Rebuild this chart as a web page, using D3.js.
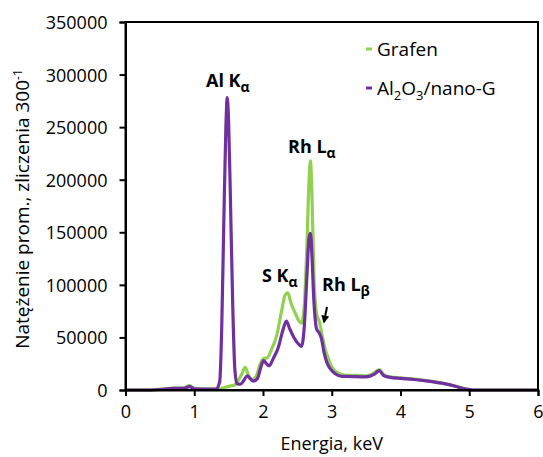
<!DOCTYPE html>
<html><head><meta charset="utf-8">
<script src="https://cdn.jsdelivr.net/npm/d3@7"></script>
<style>body{margin:0;background:#fff;} svg{display:block;}</style>
</head><body>
<svg id="c" width="543" height="457"></svg>
<script>
const energy = [0.0,0.3,0.5,0.7,0.85,0.93,1.0,1.2,1.32,1.37,1.40,1.43,1.46,1.48,1.50,1.53,1.56,1.59,1.62,1.67,1.72,1.77,1.81,1.86,1.92,1.97,2.01,2.05,2.09,2.15,2.22,2.29,2.34,2.39,2.45,2.50,2.56,2.60,2.64,2.67,2.69,2.71,2.74,2.78,2.82,2.85,2.89,2.93,2.98,3.05,3.15,3.30,3.45,3.55,3.62,3.69,3.75,3.85,4.0,4.2,4.4,4.6,4.8,4.95,5.05,6.0];
const alValues = [0,0,500,1500,1500,3200,1200,800,1000,8000,60000,160000,250000,278000,255000,170000,80000,20000,6000,5500,9000,13500,11000,8500,11000,22000,28000,25000,23000,30000,40000,57000,65500,58000,50000,45000,41500,60000,110000,145000,149000,130000,85000,58000,54000,49000,35000,26000,20000,15500,13000,12800,12500,13000,15000,18500,14000,12000,11000,10000,8500,6500,3500,800,0,0];
const grafenEnergy = [0.0,0.3,0.5,0.7,0.85,0.93,1.0,1.2,1.35,1.42,1.50,1.58,1.63,1.69,1.74,1.79,1.84,1.90,1.96,2.01,2.06,2.12,2.20,2.27,2.32,2.36,2.41,2.47,2.52,2.56,2.60,2.64,2.67,2.69,2.71,2.74,2.78,2.82,2.86,2.90,2.95,3.00,3.08,3.20,3.35,3.50,3.60,3.69,3.76,3.85,4.0,4.2,4.4,4.6,4.8,4.95,5.05,6.0];
const grafenValues = [0,0,700,1800,2000,4500,1500,800,800,2000,3500,4500,8000,15000,21500,14000,10000,13000,25000,30000,30500,38000,52000,75000,90000,92500,82000,73000,66000,63500,80000,140000,200000,218000,190000,110000,72000,65000,52000,40000,30000,22000,16500,14000,14000,13500,15500,19500,14500,12500,11500,10300,8700,6700,3700,900,0,0];
const xTicks = [0,1,2,3,4,5,6];
const yTicks = [0,50000,100000,150000,200000,250000,300000,350000];
const seriesNames = ["Grafen","Al2O3/nano-G"];
const colors = {green:"#92D050", purple:"#7030A0"};

const svg = d3.select("#c");
const font = "'Open Sans', sans-serif";
const x = d3.scaleLinear().domain([0,6]).range([125.5,538]);
const y = d3.scaleLinear().domain([0,350000]).range([390,22]);

const line = d3.line().x(d=>x(d[0])).y(d=>y(d[1])).curve(d3.curveMonotoneX);
const gData = grafenEnergy.map((e,i)=>[e,grafenValues[i]]);
const aData = energy.map((e,i)=>[e,alValues[i]]);

svg.append("path").attr("d",line(gData)).attr("fill","none").attr("stroke",colors.green).attr("stroke-width",3.2).attr("stroke-linejoin","round");
svg.append("path").attr("d",line(aData)).attr("fill","none").attr("stroke",colors.purple).attr("stroke-width",3.2).attr("stroke-linejoin","round");

// frame
svg.append("rect").attr("x",x(0)).attr("y",y(350000)).attr("width",x(6)-x(0)).attr("height",y(0)-y(350000))
  .attr("fill","none").attr("stroke","#000").attr("stroke-width",2);

const xAxis = svg.append("g").attr("transform",`translate(0,${y(0)})`)
  .call(d3.axisBottom(x).tickValues(xTicks).tickFormat(d3.format("d")).tickSize(6).tickPadding(8));
const yAxis = svg.append("g").attr("transform",`translate(${x(0)},0)`)
  .call(d3.axisLeft(y).tickValues(yTicks).tickFormat(d=>String(d)).tickSize(6).tickPadding(12));
[xAxis,yAxis].forEach(a=>{
  a.select(".domain").attr("stroke","#000").attr("stroke-width",2);
  a.selectAll(".tick line").attr("stroke","#000").attr("stroke-width",2);
  a.selectAll("text").attr("font-family",font).attr("font-size",18).attr("fill","#000");
});
yAxis.selectAll("text").attr("dy","0.36em");
xAxis.selectAll("text").attr("dy","0.75em");

svg.append("text").attr("x",x(3)).attr("y",450).attr("text-anchor","middle")
  .attr("font-family",font).attr("font-size",18).text("Energia, keV");

const yl = svg.append("text").attr("transform","translate(29,209) rotate(-90)").attr("text-anchor","middle")
  .attr("font-family",font).attr("font-size",19);
yl.append("tspan").text("Natężenie prom., zliczenia 300");
yl.append("tspan").attr("dy",-7).attr("font-size",12).text("-1");

// legend
const leg = [{name:"Grafen",c:colors.green,y:49},{name:"Al2O3/nano-G",c:colors.purple,y:88}];
leg.forEach(l=>{
  svg.append("line").attr("x1",366).attr("x2",372).attr("y1",l.y).attr("y2",l.y).attr("stroke",l.c).attr("stroke-width",3);
});
svg.append("text").attr("x",377).attr("y",55.5).attr("font-family",font).attr("font-size",19).text(seriesNames[0]);
const t2 = svg.append("text").attr("x",377).attr("y",95).attr("font-family",font).attr("font-size",19);
t2.append("tspan").text("Al");
t2.append("tspan").attr("dy",5).attr("font-size",13).text("2");
t2.append("tspan").attr("dy",-5).text("O");
t2.append("tspan").attr("dy",5).attr("font-size",13).text("3");
t2.append("tspan").attr("dy",-5).text("/nano-G");

// annotations
function annot(px,py,main,sub){
  const t = svg.append("text").attr("x",px).attr("y",py).attr("font-family",font).attr("font-size",18).attr("font-weight","bold");
  t.append("tspan").text(main);
  t.append("tspan").attr("dy",5).attr("font-size",14).text(sub);
}
annot(206,87,"Al K","α");
annot(288,153,"Rh L","α");
annot(262,282,"S K","α");
annot(322,291,"Rh L","β");

svg.append("defs").append("marker").attr("id","ah").attr("viewBox","0 0 10 10").attr("refX",8).attr("refY",5)
  .attr("markerWidth",4).attr("markerHeight",4).attr("orient","auto")
  .append("path").attr("d","M0,0L10,5L0,10z").attr("fill","#000");
svg.append("line").attr("x1",327).attr("y1",307).attr("x2",324).attr("y2",322)
  .attr("stroke","#000").attr("stroke-width",2).attr("marker-end","url(#ah)");
</script>
</body></html>
